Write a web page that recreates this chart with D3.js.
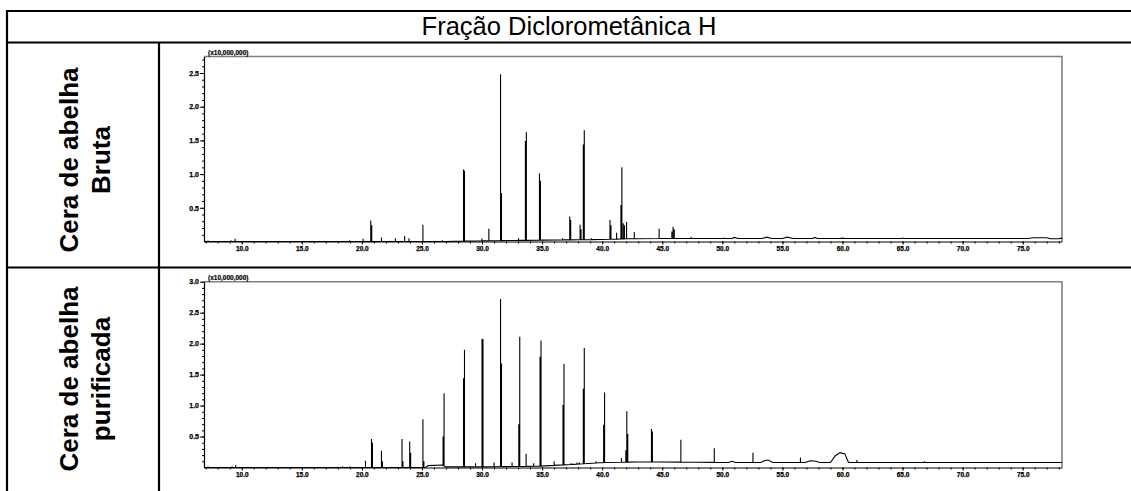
<!DOCTYPE html>
<html>
<head>
<meta charset="utf-8">
<script src="https://cdn.jsdelivr.net/npm/d3@7"></script>
<style>
body { margin: 0; background: #fff; }
</style>
</head>
<body>
<div class="container"></div>
<script>
const WIDTH = 1131;
const HEIGHT = 491;

const TITLE = "Fração Diclorometânica H";
const rowLabels = [["Cera de abelha", "Bruta"], ["Cera de abelha", "purificada"]];
const UNIT_LABEL = "(x10,000,000)";

// retention time axis (min)
const X_MIN = 6.86;
const X_MAX = 78.27;
const xTicks = [10, 15, 20, 25, 30, 35, 40, 45, 50, 55, 60, 65, 70, 75];

// crude wax: peaks (time, intensity x10^7) and baseline
const brutaPeakT = [7.2, 9.1, 9.45, 19.0, 20.1, 20.74, 20.82, 21.63, 22.79, 23.56, 23.92, 25.08, 26.7,
    28.46, 28.54, 30.0, 30.57, 31.54, 31.62, 33.03, 33.61, 33.69, 34.78, 34.86, 36.7, 37.3, 37.38,
    38.16, 38.24, 38.43, 38.51, 39.1, 40.65, 40.73, 41.2, 41.56, 41.64, 41.75, 41.85, 42.03, 42.67,
    44.74, 45.8, 45.9, 46.0, 47.4, 50.14];
const brutaPeakH = [0.015, 0.02, 0.04, 0.02, 0.04, 0.31, 0.24, 0.06, 0.05, 0.08, 0.05, 0.25, 0.02,
    1.07, 1.05, 0.045, 0.19, 2.48, 0.72, 0.05, 1.49, 1.62, 1.01, 0.90, 0.05, 0.37, 0.32,
    0.25, 0.18, 1.44, 1.65, 0.05, 0.32, 0.24, 0.13, 0.54, 1.10, 0.27, 0.24, 0.29, 0.14,
    0.19, 0.15, 0.22, 0.18, 0.07, 0.06];
const brutaBaseT = [6.86, 27, 30, 35, 40, 42, 45, 50, 50.8, 51.0, 51.3, 53.3, 53.7, 54.1, 55.0, 55.4, 55.9,
    57.5, 57.7, 57.9, 59.8, 60.0, 60.2, 64.9, 65.0, 65.1, 75.5, 75.8, 77.0, 77.3, 78.0, 78.27];
const brutaBaseV = [0, 0, 0.01, 0.02, 0.03, 0.04, 0.045, 0.045, 0.045, 0.06, 0.045, 0.045, 0.065, 0.045, 0.045, 0.065, 0.045,
    0.045, 0.06, 0.045, 0.045, 0.05, 0.045, 0.045, 0.052, 0.045, 0.045, 0.055, 0.055, 0.04, 0.04, 0.05];
const brutaYMax = 2.745;
const brutaYTicks = [0.5, 1.0, 1.5, 2.0, 2.5];

// purified wax
const purifPeakT = [7.2, 9.2, 9.5, 18.4, 19.0, 20.3, 20.8, 20.88, 21.63, 21.71, 23.34, 23.42, 23.98, 24.06,
    25.08, 25.16, 26.76, 26.84, 28.46, 28.54, 29.46, 30.0, 30.08, 31.0, 31.54, 31.62, 32.5, 33.06, 33.14,
    33.67, 34.3, 34.83, 34.91, 36.0, 36.74, 36.82, 37.4, 37.9, 38.1, 38.43, 38.51, 39.48, 40.12, 40.2,
    41.6, 41.97, 42.05, 42.13, 44.1, 44.18, 45.0, 46.55, 49.33, 52.55, 56.5, 61.2, 66.84];
const purifPeakH = [0.015, 0.02, 0.04, 0.02, 0.02, 0.11, 0.46, 0.40, 0.27, 0.10, 0.46, 0.10, 0.42, 0.24,
    0.78, 0.10, 0.50, 1.20, 1.44, 1.90, 0.07, 2.08, 2.07, 0.08, 2.72, 1.68, 0.08, 0.70, 2.11,
    0.22, 0.07, 1.79, 2.05, 0.10, 1.01, 1.67, 0.07, 0.08, 0.08, 1.27, 1.93, 0.10, 0.69, 1.21,
    0.15, 0.28, 0.91, 0.54, 0.62, 0.58, 0.10, 0.45, 0.31, 0.24, 0.16, 0.12, 0.10];
const purifBaseT = [6.86, 25.3, 25.5, 26.7, 27, 30, 34.7, 37.5, 40.2, 43, 48, 50.5, 50.8, 51.1, 53.2, 53.5,
    53.8, 54.2, 56.9, 57.3, 57.8, 58.1, 59.0, 59.4, 59.8, 60.2, 60.5, 78.27];
const purifBaseV = [0, 0, 0.03, 0.04, 0.01, 0.01, 0.02, 0.05, 0.08, 0.09, 0.085, 0.08, 0.1, 0.08, 0.08, 0.11,
    0.12, 0.08, 0.08, 0.11, 0.10, 0.08, 0.08, 0.19, 0.24, 0.22, 0.08, 0.08];
const purifYMax = 3.0;
const purifYTicks = [0.5, 1.0, 1.5, 2.0, 2.5, 3.0];

const PLOT_LEFT = 204;
const PLOT_RIGHT = 1062;
const FONT = "Liberation Sans, Arial, sans-serif";

var translate = function (x, y) {
    return "translate(" + x + "," + y + ")";
};

// baseline points plus one vertical spike per peak
function buildTrace(peakT, peakH, baseT, baseV) {
    var base = d3.scaleLinear().domain(baseT).range(baseV);
    var pts = baseT.map(function (t, i) { return [t, baseV[i]]; });
    peakT.forEach(function (t, i) {
        var b = base(t);
        pts.push([t - 1e-4, b], [t, peakH[i]], [t + 1e-4, b]);
    });
    pts.sort(function (a, b) { return a[0] - b[0]; });
    return pts;
}

function drawPanel(svg, cfg) {
    var x = d3.scaleLinear().domain([X_MIN, X_MAX]).range([PLOT_LEFT, PLOT_RIGHT]);
    var y = d3.scaleLinear().domain([0, cfg.yMax]).range([cfg.bottom, cfg.top]);
    var g = svg.append("g");

    // grey frame (top & right)
    g.append("path")
        .attr("d", "M" + PLOT_LEFT + "," + cfg.top + "H" + PLOT_RIGHT + "V" + cfg.bottom)
        .attr("fill", "none")
        .attr("stroke", "#808080")
        .attr("stroke-width", 1.6);

    var minorY = d3.range(1, Math.floor(cfg.yMax * 10 + 0.001) + 1).map(function (d) { return d / 10; });
    g.append("g")
        .attr("transform", translate(PLOT_LEFT, 0))
        .call(d3.axisLeft(y).tickValues(minorY).tickSize(2).tickSizeOuter(0).tickFormat(""))
        .call(function (a) { a.select(".domain").remove(); });

    var yAx = g.append("g")
        .attr("transform", translate(PLOT_LEFT, 0))
        .call(d3.axisLeft(y).tickValues(cfg.yTicks).tickSize(4).tickSizeOuter(0).tickPadding(1)
            .tickFormat(d3.format(".1f")));
    yAx.select(".domain").attr("stroke-width", 1.2);

    var minorX = d3.range(7, 79);
    g.append("g")
        .attr("transform", translate(0, cfg.bottom))
        .call(d3.axisBottom(x).tickValues(minorX).tickSize(2).tickSizeOuter(0).tickFormat(""))
        .call(function (a) { a.select(".domain").remove(); });

    var xAx = g.append("g")
        .attr("transform", translate(0, cfg.bottom))
        .call(d3.axisBottom(x).tickValues(xTicks).tickSize(3).tickSizeOuter(0).tickPadding(2)
            .tickFormat(d3.format(".1f")));
    xAx.select(".domain").attr("stroke-width", 1.2);

    g.selectAll(".tick text")
        .attr("font-family", FONT)
        .attr("font-weight", "bold")
        .attr("fill", "#000")
        .attr("stroke", "#000")
        .attr("stroke-width", 0.25);
    yAx.selectAll(".tick text").attr("font-size", 7);
    xAx.selectAll(".tick text").attr("font-size", 6.5);

    g.append("text")
        .attr("x", PLOT_LEFT + 4)
        .attr("y", cfg.top - 2)
        .attr("font-family", FONT)
        .attr("font-weight", "bold")
        .attr("font-size", 6.5)
        .attr("fill", "#000")
        .attr("stroke", "#000")
        .attr("stroke-width", 0.2)
        .text(UNIT_LABEL);

    var line = d3.line()
        .x(function (d) { return x(d[0]); })
        .y(function (d) { return y(d[1]); });

    g.append("path")
        .datum(buildTrace(cfg.peakT, cfg.peakH, cfg.baseT, cfg.baseV))
        .attr("d", line)
        .attr("fill", "none")
        .attr("stroke", "#000")
        .attr("stroke-width", 1.1);
}

function drawTable(svg) {
    var lines = [
        [7, 11, WIDTH + 5, 11],
        [7, 10, 7, HEIGHT + 5],
        [7, 42.5, WIDTH + 5, 42.5],
        [7, 267.5, WIDTH + 5, 267.5],
        [159, 42.5, 159, HEIGHT + 5]
    ];
    svg.selectAll(".grid")
        .data(lines)
        .enter().append("line")
        .attr("x1", function (d) { return d[0]; })
        .attr("y1", function (d) { return d[1]; })
        .attr("x2", function (d) { return d[2]; })
        .attr("y2", function (d) { return d[3]; })
        .attr("stroke", "#000")
        .attr("stroke-width", 2.2);

    svg.append("text")
        .attr("x", 569)
        .attr("y", 35)
        .attr("text-anchor", "middle")
        .attr("font-family", FONT)
        .attr("font-size", 25.5)
        .text(TITLE);

    var centers = [160, 379];
    rowLabels.forEach(function (lab, i) {
        var t = svg.append("text")
            .attr("transform", translate(0, centers[i]) + " rotate(-90)")
            .attr("text-anchor", "middle")
            .attr("font-family", FONT)
            .attr("font-weight", "bold")
            .attr("font-size", 26);
        t.append("tspan").attr("x", 0).attr("y", 78).text(lab[0]);
        t.append("tspan").attr("x", 0).attr("y", 110).text(lab[1]);
    });
}

var loadChart = function () {
    var svg = d3.select(".container").append("svg")
        .attr("width", WIDTH)
        .attr("height", HEIGHT);

    drawTable(svg);
    drawPanel(svg, {
        top: 56.5, bottom: 241.5, yMax: brutaYMax, yTicks: brutaYTicks,
        peakT: brutaPeakT, peakH: brutaPeakH, baseT: brutaBaseT, baseV: brutaBaseV
    });
    drawPanel(svg, {
        top: 281.7, bottom: 467.5, yMax: purifYMax, yTicks: purifYTicks,
        peakT: purifPeakT, peakH: purifPeakH, baseT: purifBaseT, baseV: purifBaseV
    });
};

window.onload = loadChart;
</script>
</body>
</html>
